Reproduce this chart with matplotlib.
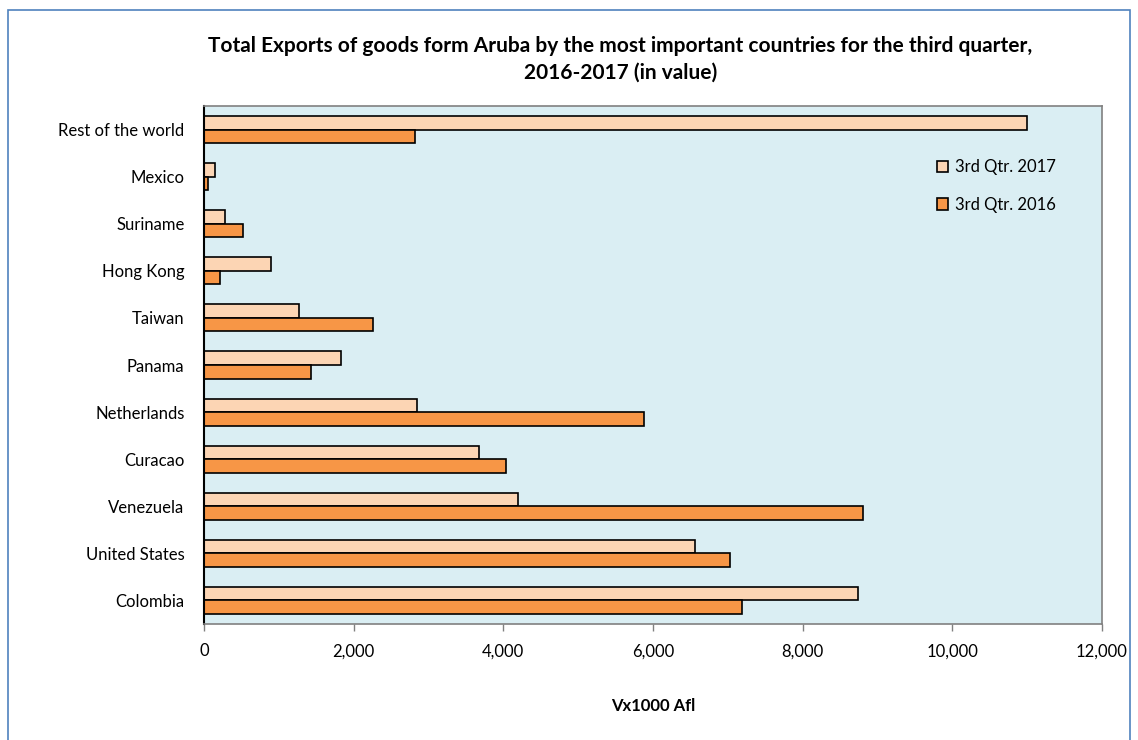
import matplotlib
matplotlib.use("Agg")
import matplotlib.pyplot as plt
import numpy as np
from matplotlib.patches import Rectangle, Patch
from matplotlib.ticker import FuncFormatter

countries = ["Colombia", "United States", "Venezuela", "Curacao", "Netherlands",
             "Panama", "Taiwan", "Hong Kong", "Suriname", "Mexico", "Rest of the world"]
q3_2017 = [8740, 6565, 4200, 3680, 2840, 1835, 1270, 900, 285, 150, 10995]
q3_2016 = [7195, 7035, 8810, 4035, 5885, 1435, 2255, 215, 515, 50, 2820]

plt.rcParams['font.family'] = ['Lato', 'DejaVu Sans']

fig = plt.figure(figsize=(11.38, 7.4), dpi=100)
fig.patch.set_facecolor('white')

# outer chart border
fig.patches.append(Rectangle((8/1138, -0.05), (1130-8)/1138, 1.05 - 10/740,
                             transform=fig.transFigure, fill=False,
                             edgecolor='#4F81BD', linewidth=1.2))

ax = fig.add_axes([204/1138, 1 - 624/740, (1102-204)/1138, (624-106)/740])
ax.set_facecolor('#DAEEF3')

y = np.arange(len(countries))
h = 0.287
ax.barh(y + h/2, q3_2017, height=h, color='#FCD5B4', edgecolor='black',
        linewidth=1.2, label='3rd Qtr. 2017')
ax.barh(y - h/2, q3_2016, height=h, color='#F79646', edgecolor='black',
        linewidth=1.2, label='3rd Qtr. 2016')

ax.set_xlim(0, 12000)
ax.set_ylim(-0.5, len(countries) - 0.5)
ax.set_xticks(np.arange(0, 12001, 2000))
ax.xaxis.set_major_formatter(FuncFormatter(lambda v, p: f"{int(v):,}"))
ax.set_yticks(y)
ax.set_yticklabels(countries)
ax.tick_params(axis='y', length=0, pad=14, labelsize=12, colors='black')
ax.tick_params(axis='x', length=5, width=1, color='#808080', pad=9,
               labelsize=12, labelcolor='black')

for s in ['top', 'right', 'bottom']:
    ax.spines[s].set_color('#808080')
    ax.spines[s].set_linewidth(1.2)
ax.spines['left'].set_color('black')
ax.spines['left'].set_linewidth(1.5)

ax.set_xlabel('Vx1000 Afl', fontsize=12, fontweight='bold', labelpad=28)

fig.text(0.545, 1 - 59/740,
         'Total Exports of goods form Aruba by the most important countries for the third quarter,\n2016-2017 (in value)',
         ha='center', va='center', fontsize=15, fontweight='bold', linespacing=1.4)

handles = [Patch(facecolor='#FCD5B4', edgecolor='black', linewidth=1.2),
           Patch(facecolor='#F79646', edgecolor='black', linewidth=1.2)]
ax.legend(handles, ['3rd Qtr. 2017', '3rd Qtr. 2016'], frameon=False,
          loc='upper left', bbox_to_anchor=(0.799, 0.926), handlelength=0.7,
          handleheight=0.7, handletextpad=0.4, labelspacing=1.3, fontsize=12)

fig.savefig('out.png', dpi=100)
